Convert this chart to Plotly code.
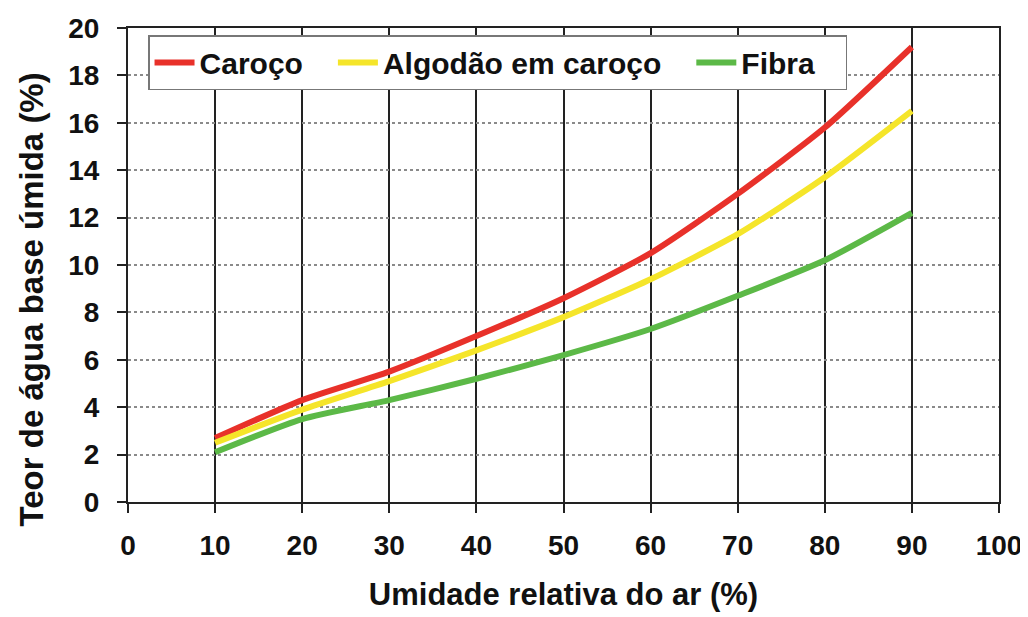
import plotly.graph_objects as go

# Umidade relativa do ar (%)
umidade = [10, 20, 30, 40, 50, 60, 70, 80, 90]

# Teor de agua base umida (%)
caroco = [2.7, 4.3, 5.5, 7.0, 8.6, 10.5, 13.0, 15.8, 19.2]
algodao_em_caroco = [2.5, 3.9, 5.1, 6.4, 7.8, 9.4, 11.3, 13.7, 16.5]
fibra = [2.1, 3.5, 4.3, 5.2, 6.2, 7.3, 8.7, 10.2, 12.2]

x_ticks = [0, 10, 20, 30, 40, 50, 60, 70, 80, 90, 100]
y_ticks = [0, 2, 4, 6, 8, 10, 12, 14, 16, 18, 20]

FONT = "Liberation Sans, Arial, sans-serif"
PAD = "\u00a0" * 3  # extra room between legend entries

fig = go.Figure()
series = [
    ("Caroço", caroco, "#e8312a"),
    ("Algodão em caroço", algodao_em_caroco, "#f5e52a"),
    ("Fibra", fibra, "#5cb947"),
]
for name, vals, color in series:
    fig.add_trace(go.Scatter(
        x=umidade, y=vals, name=name + PAD, mode="lines",
        line=dict(color=color, width=6, shape="spline", smoothing=0.6),
    ))

tick_font = dict(family=FONT, size=28, color="#111", weight="bold")

# the page body adds an 8px offset, so margins are shifted to compensate
fig.update_layout(
    width=1028, height=617,
    plot_bgcolor="white", paper_bgcolor="white",
    margin=dict(l=120, r=37, t=20, b=123),
    font=dict(family=FONT, color="#111"),
    showlegend=True,
    legend=dict(
        orientation="h",
        x=0.023, y=0.985, xanchor="left", yanchor="top",
        bgcolor="white", bordercolor="#777", borderwidth=1.5,
        font=dict(family=FONT, size=30, color="#111", weight="bold"),
        itemwidth=40, tracegroupgap=0,
    ),
    xaxis=dict(
        range=[0, 100], tickvals=x_ticks, automargin=False,
        showgrid=True, gridcolor="#222", gridwidth=2,
        showline=True, linecolor="#222", linewidth=2, mirror=True,
        ticks="outside", ticklen=9, tickwidth=2, tickcolor="#222",
        tickfont=tick_font, ticklabelstandoff=8, zeroline=False,
        title=dict(text="Umidade relativa do ar (%)", standoff=24,
                   font=dict(family=FONT, size=31, color="#111", weight="bold")),
    ),
    yaxis=dict(
        range=[0, 20], tickvals=y_ticks, automargin=False,
        showgrid=True, gridcolor="#8a8a8a", gridwidth=2, griddash="dot",
        showline=True, linecolor="#222", linewidth=2, mirror=True,
        ticks="outside", ticklen=9, tickwidth=2, tickcolor="#222",
        tickfont=tick_font, ticklabelstandoff=12, zeroline=False,
    ),
)

# y title sits a bit below the plot's centre in the original
fig.add_annotation(
    text="Teor de água base úmida (%)", textangle=-90,
    xref="paper", yref="paper", x=-0.111, y=0.428,
    xanchor="center", yanchor="middle", showarrow=False,
    font=dict(family=FONT, size=33, color="#111", weight="bold"),
)

fig.write_html("out.html")
